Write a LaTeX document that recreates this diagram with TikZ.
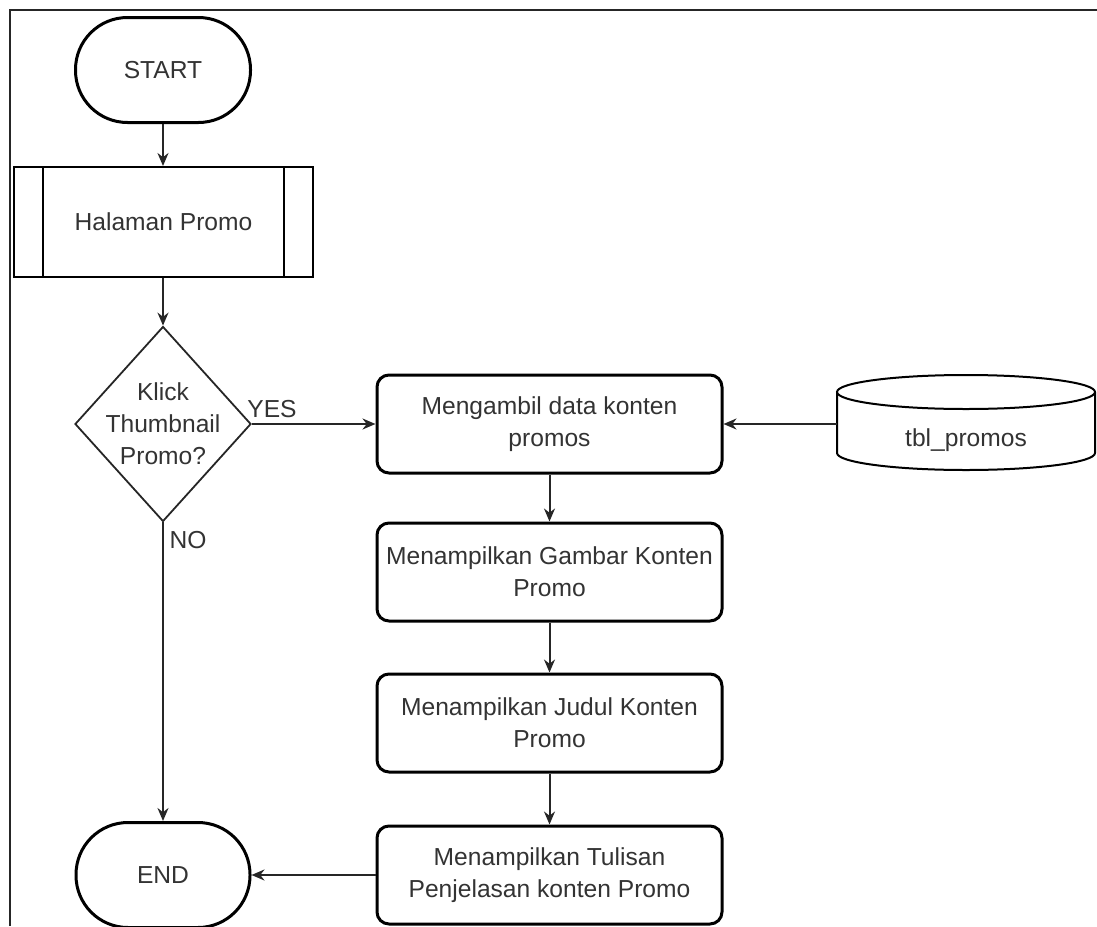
\documentclass[tikz,border=0pt]{standalone}
\usepackage{fontspec}
\setmainfont{Liberation Sans}
\usetikzlibrary{shapes.geometric,arrows.meta,calc}
\begin{document}
\begin{tikzpicture}[x=1pt,y=-1pt,
  every node/.style={text=black!80, font=\fontsize{24.6}{32}\selectfont, inner sep=0pt},
  term/.style={draw=black, line width=3pt, rectangle, rounded corners=52pt, minimum width=175pt, minimum height=105pt},
  proc/.style={draw=black, line width=3pt, rectangle, rounded corners=12pt, minimum width=345pt, minimum height=98pt, align=center},
  sub/.style={draw=black, line width=2pt, rectangle, minimum width=299pt, minimum height=110pt},
  dec/.style={draw=black!85, line width=1.8pt, diamond, minimum width=176pt, minimum height=195pt},
  arr/.style={draw=black!85, line width=2pt, -{Stealth[length=13pt,width=11pt]}},
  lbl/.style={text=black!80},
]
\useasboundingbox (0,0) rectangle (1097,926);
% frame
\draw[line width=2pt, black!85] (10,926) -- (10,10) -- (1097,10);

\node[term] (start) at (163,70) {START};
\node[sub] (hal) at (163.5,222) {Halaman Promo};
\draw[line width=2pt] ($(hal.north west)+(30,0)$) -- ($(hal.south west)+(30,0)$);
\draw[line width=2pt] ($(hal.north east)+(-30,0)$) -- ($(hal.south east)+(-30,0)$);
\node[dec] (dec) at (163,424) {};
\node[align=center] (dectxt) at (dec.center) {Klick\\Thumbnail\\Promo?};

\node[proc] (p1) at (549.5,424) {Mengambil data konten\\promos};
\node[proc] (p2) at (549.5,572) {Menampilkan Gambar Konten\\Promo};
\node[proc] (p3) at (549.5,723) {Menampilkan Judul Konten\\Promo};
\node[proc] (p4) at (549.5,875) {Menampilkan Tulisan\\Penjelasan konten Promo};

\node[term, minimum width=174pt] (end) at (163,875) {END};

% database cylinder
\draw[line width=2pt, fill=white] (837,392) -- (837,453) arc[start angle=180, end angle=360, x radius=129pt, y radius=17pt] -- (1095,392);
\draw[line width=2pt, fill=white] (966,392) ellipse[x radius=129pt, y radius=17pt];
\node (db) at (966,440) {tbl\_promos};
\coordinate (dbL) at (837,424);

% connectors
\draw[arr] (start.south) -- (start.south |- hal.north);
\draw[arr] (hal.south -| start.south) -- (dec.north);
\draw[arr] (dec.east) -- (p1.west);
\draw[arr] (dbL) -- (p1.east);
\draw[arr] (p1.south) -- (p2.north);
\draw[arr] (p2.south) -- (p3.north);
\draw[arr] (p3.south) -- (p4.north);
\draw[arr] (p4.west) -- (end.east);
\draw[arr] (dec.south) -- (end.north);

\node[lbl] (yes) at (272,409) {YES};
\node[lbl] (no) at (188,540) {NO};
\end{tikzpicture}
\end{document}
